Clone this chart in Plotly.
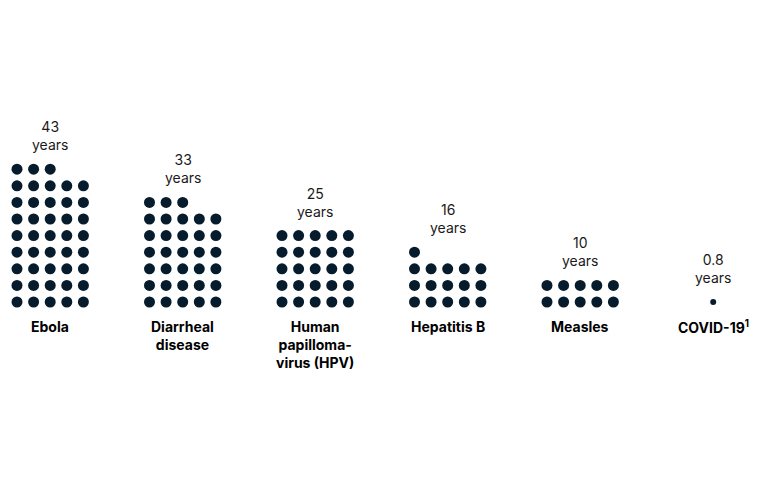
import plotly.graph_objects as go

categories = ["Ebola", "Diarrheal<br>disease", "Human<br>papilloma-<br>virus (HPV)", "Hepatitis B", "Measles", "COVID-19<sup>1</sup>"]
values = [43, 33, 25, 16, 10, 0.8]
value_labels = ["43", "33", "25", "16", "10", "0.8"]

cols = 5
step = 16.6
group_left = [17, 149.5, 282, 414.5, 547]
base_y = 302
color = "#061b2b"

fig = go.Figure()
xs, ys = [], []
centers = []
tops = []
for i, v in enumerate(values):
    if v >= 1:
        n = int(round(v))
        for k in range(n):
            r, c = divmod(k, cols)
            xs.append(group_left[i] + c * step)
            ys.append(base_y - r * step)
        centers.append(group_left[i] + 2 * step)
        tops.append(base_y - ((n - 1) // cols) * step)
    else:
        cx = group_left[-1] + 2 * step + 133
        fig.add_trace(go.Scatter(x=[cx], y=[base_y], mode="markers",
                                 marker=dict(size=6, color=color), hoverinfo="skip"))
        centers.append(cx)
        tops.append(base_y)

fig.add_trace(go.Scatter(x=xs, y=ys, mode="markers",
                         marker=dict(size=11, color=color), hoverinfo="skip"))

for i in range(len(values)):
    fig.add_annotation(x=centers[i], y=tops[i] - 14, text=value_labels[i] + "<br>years",
                       showarrow=False, yanchor="bottom",
                       font=dict(family="Inter", size=14, color="#1a1a1a"))
    fig.add_annotation(x=centers[i], y=316, text="<b>" + categories[i] + "</b>",
                       showarrow=False, yanchor="top",
                       font=dict(family="Inter", size=14, color="#000"))

fig.update_layout(width=767, height=480, margin=dict(l=0, r=0, t=0, b=0),
                  plot_bgcolor="white", paper_bgcolor="white", showlegend=False,
                  xaxis=dict(range=[8, 775], visible=False),
                  yaxis=dict(range=[488, 8], visible=False))
fig.write_html("out.html")
